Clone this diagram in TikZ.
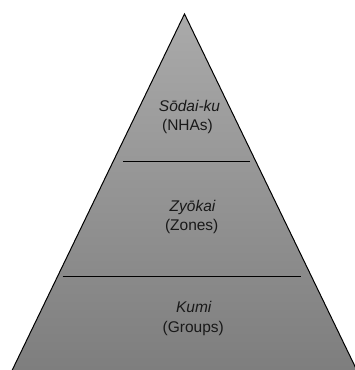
\documentclass[tikz,border=0pt]{standalone}
\usepackage{fontspec}
\setmainfont{Liberation Sans}
\begin{document}
\begin{tikzpicture}[x=1pt,y=-1pt,
  lbl/.style={anchor=base,inner sep=0pt,font=\fontsize{15.5}{18}\selectfont,text=black!90},
  ttl/.style={lbl,font=\fontsize{15.5}{18}\selectfont\itshape},
  divider/.style={line width=0.9pt,black}]
\useasboundingbox (0,0) rectangle (355,370);
\clip (0,0) rectangle (355,370);
\coordinate (apex) at (184.5,14);
\coordinate (bl) at (8.4,378);
\coordinate (br) at (360.6,378);
\shade[top color={rgb,255:red,170;green,170;blue,170},bottom color={rgb,255:red,125;green,125;blue,125},draw=black,line width=1pt,line join=miter]
  (apex) -- (br) -- (bl) -- cycle;
\coordinate (d1a) at (123,161);
\coordinate (d1b) at (250,161);
\coordinate (d2a) at (62.5,276);
\coordinate (d2b) at (301,276);
\draw[divider] (d1a) -- (d1b);
\draw[divider] (d2a) -- (d2b);
\node[ttl] (t1) at (189.5,111.5) {Sōdai-ku};
\node[lbl] (s1) at (187.5,130.5) {(NHAs)};
\node[ttl] (t2) at (192.5,211.5) {Zyōkai};
\node[lbl] (s2) at (191.7,230.8) {(Zones)};
\node[ttl] (t3) at (193.7,312.7) {Kumi};
\node[lbl] (s3) at (193.3,332.3) {(Groups)};
\end{tikzpicture}
\end{document}
